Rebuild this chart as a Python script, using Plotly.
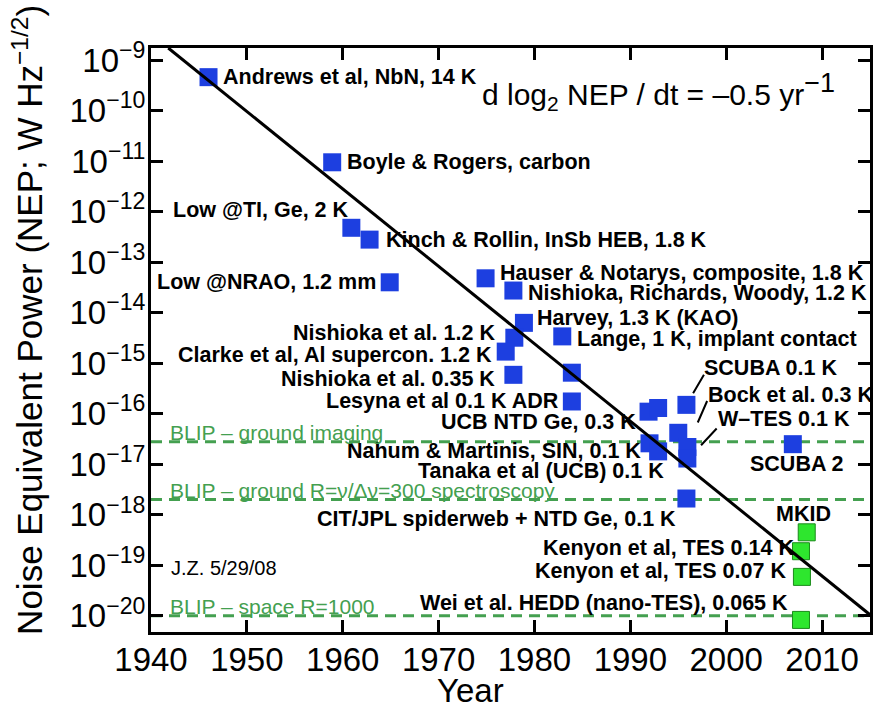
import math
import plotly.graph_objects as go

# ---------------- data ----------------
blue_years = [1946.0, 1958.9, 1960.9, 1962.8, 1964.9, 1974.9, 1977.8, 1978.9,
              1977.9, 1977.0, 1982.9, 1977.8, 1983.9, 1983.9, 1991.9, 1992.9,
              1992.0, 1992.9, 1995.85, 1995.0, 1995.95, 1995.95, 1995.85, 2006.95]
blue_nep = [4.6e-10, 9.5e-12, 4.8e-13, 2.8e-13, 4.0e-14, 4.8e-14, 2.75e-14, 6.3e-15,
            3.2e-15, 1.7e-15, 3.4e-15, 5.9e-16, 6.5e-16, 1.75e-16, 1.1e-16, 1.3e-16,
            2.6e-17, 1.8e-17, 1.5e-16, 4.2e-17, 2.2e-17, 1.3e-17, 2.1e-18, 2.5e-17]
blue_labels = ["Andrews et al, NbN, 14 K", "Boyle & Rogers, carbon", "Low @TI, Ge, 2 K",
               "Kinch & Rollin, InSb HEB, 1.8 K", "Low @NRAO, 1.2 mm",
               "Hauser & Notarys, composite, 1.8 K", "Nishioka, Richards, Woody, 1.2 K",
               "Harvey, 1.3 K (KAO)", "Nishioka et al. 1.2 K", "Clarke et al, Al supercon. 1.2 K",
               "Lange, 1 K, implant contact", "Nishioka et al. 0.35 K", "",
               "Lesyna et al 0.1 K ADR", "UCB NTD Ge, 0.3 K", "",
               "Nahum & Martinis, SIN, 0.1 K", "", "SCUBA 0.1 K", "Bock et al. 0.3 K",
               "W\u2013TES 0.1 K", "Tanaka et al (UCB) 0.1 K",
               "CIT/JPL spiderweb + NTD Ge, 0.1 K", "SCUBA 2"]

green_years = [2008.4, 2007.8, 2007.9, 2007.8]
green_nep = [4.5e-19, 1.9e-19, 5.9e-20, 8.3e-21]
green_labels = ["MKID", "Kenyon et al, TES 0.14 K", "Kenyon et al, TES 0.07 K",
                "Wei et al. HEDD (nano-TES), 0.065 K"]

trend_years = [1941.8, 2015.0]
trend_nep = [1.74e-9, 1.05e-20]

blip_nep = [2.8e-17, 2.0e-18, 1.0e-20]
blip_labels = ["BLIP \u2013 ground imaging",
               "BLIP \u2013 ground R=\u03bd/\u0394\u03bd=300 spectroscopy",
               "BLIP \u2013 space R=1000"]

x_ticks = [1940, 1950, 1960, 1970, 1980, 1990, 2000, 2010]
y_exponents = [-9, -10, -11, -12, -13, -14, -15, -16, -17, -18, -19, -20]

# ---------------- label placement (pixels: anchor, dx, dy-up) ----------------
blue_place = [("left", 12, 0), ("left", 13, 0), ("right", 0, 18), ("left", 14, 0),
              ("right", -12, 0), ("left", 12, 5), ("left", 13, -2), ("left", 11, 5),
              ("right", -17, 5), ("right", -12, -3), ("left", 13, -3), ("right", -16, -4),
              None, ("right", -11, 0), ("right", -11, -10), None,
              ("right", -7, -8), None, ("left", 16, 37), ("left", 28, 38),
              ("left", 29, 28), ("right", -21, -12), ("right", -8, -20), ("center", 4, -20)]
green_place = [("center", -3, 18), ("right", -5, 3), ("right", -14, 6), ("right", -11, 17)]
# leader lines: (point index, head dx, head dy(down), tail dx, tail dy(down))
leaders = [(18, 6.7, -11.7, 18.4, -31.7), (19, 19.5, -10.3, 29.5, -33.3),
           (20, 13.7, -1.7, 30.7, -20.0)]

FONT = "Liberation Sans, Arial, Helvetica, sans-serif"
BLUE = "#1d3fe0"
GREEN_FILL = "#2ee62e"
GREEN_EDGE = "#1a8a1a"
BLIP_GREEN = "#44a050"

fig = go.Figure()

for v in blip_nep:
    fig.add_trace(go.Scatter(x=[1940, 2015], y=[v, v], mode="lines",
                             line=dict(color=BLIP_GREEN, width=3, dash="11px,7px"),
                             hoverinfo="skip", showlegend=False))

fig.add_trace(go.Scatter(x=blue_years, y=blue_nep, mode="markers",
                         marker=dict(symbol="square", size=18, color=BLUE,
                                     line=dict(width=0)),
                         showlegend=False))
fig.add_trace(go.Scatter(x=green_years, y=green_nep, mode="markers",
                         marker=dict(symbol="square", size=17, color=GREEN_FILL,
                                     line=dict(width=1, color=GREEN_EDGE)),
                         showlegend=False))
fig.add_trace(go.Scatter(x=trend_years, y=trend_nep, mode="lines",
                         line=dict(color="black", width=3), showlegend=False))

ann = []
lab_font = dict(family=FONT, size=21.5, color="black", weight="bold")
for yr, v, t, p in zip(blue_years + green_years, blue_nep + green_nep,
                       blue_labels + green_labels, blue_place + green_place):
    if not t or p is None:
        continue
    anc, dx, dy = p
    ann.append(dict(x=yr, y=math.log10(v), xref="x", yref="y", text=t,
                    showarrow=False, xanchor=anc, yanchor="middle",
                    xshift=dx, yshift=dy, font=lab_font))

for idx, hx, hy, tx, ty in leaders:
    ann.append(dict(x=blue_years[idx], y=math.log10(blue_nep[idx]), xref="x", yref="y",
                    text="", showarrow=True, arrowhead=0, arrowwidth=2,
                    arrowcolor="black", xshift=hx, yshift=-hy,
                    ax=tx - hx, ay=ty - hy, axref="pixel", ayref="pixel",
                    standoff=0, startstandoff=0))

for v, t in zip(blip_nep, blip_labels):
    ann.append(dict(x=1940, y=math.log10(v), xref="x", yref="y", text=t,
                    showarrow=False, xanchor="left", yanchor="bottom",
                    xshift=17, yshift=-4,
                    font=dict(family=FONT, size=21, color=BLIP_GREEN)))

ann.append(dict(x=0.458, y=0.925, xref="paper", yref="paper", xanchor="left",
                yanchor="middle", showarrow=False,
                text="d log<sub>2</sub> NEP / dt = \u20130.5 yr"
                     "<sup><span style='font-size:27px'>\u22121</span></sup>",
                font=dict(family=FONT, size=30, color="black")))
ann.append(dict(x=0.025, y=0.11, xref="paper", yref="paper", xanchor="left",
                yanchor="middle", showarrow=False, text="J.Z. 5/29/08",
                font=dict(family=FONT, size=20, color="black")))
ann.append(dict(x=-0.172, y=0.535, xref="paper", yref="paper", xanchor="center",
                yanchor="middle", showarrow=False, textangle=-90,
                text="Noise Equivalent Power (NEP; W Hz<sup>\u22121/2</sup>)",
                font=dict(family=FONT, size=35, color="black")))
ann.append(dict(x=0.444, y=-0.1, xref="paper", yref="paper", xanchor="center",
                yanchor="middle", showarrow=False, text="Year",
                font=dict(family=FONT, size=33, color="black")))

fig.update_layout(
    width=873, height=713,
    margin=dict(l=151, r=3, t=48, b=81),
    paper_bgcolor="white", plot_bgcolor="white",
    showlegend=False,
    annotations=ann,
    font=dict(family=FONT, color="black"),
)
fig.update_xaxes(range=[1940, 2015], tickvals=x_ticks, ticktext=[str(t) for t in x_ticks],
                 ticks="inside", ticklen=12, tickwidth=2.5, tickcolor="black",
                 showline=True, linewidth=3, linecolor="black", mirror="allticks",
                 showgrid=False, zeroline=False, automargin=False,
                 ticklabelstandoff=-4,
                 tickfont=dict(family=FONT, size=33, color="black"))
fig.update_yaxes(type="log", range=[-20.32, -8.76],
                 tickvals=[10.0 ** e for e in y_exponents],
                 ticktext=["10<sup>\u2212%d</sup>" % (-e) for e in y_exponents],
                 ticks="inside", ticklen=12, tickwidth=2.5, tickcolor="black",
                 showline=True, linewidth=3, linecolor="black", mirror="allticks",
                 showgrid=False, zeroline=False, automargin=False,
                 ticklabelstandoff=-4,
                 tickfont=dict(family=FONT, size=33, color="black"))

fig.write_html("out.html", config={"displayModeBar": False},
               post_script="document.body.style.margin='0px';document.body.style.padding='0px';")
